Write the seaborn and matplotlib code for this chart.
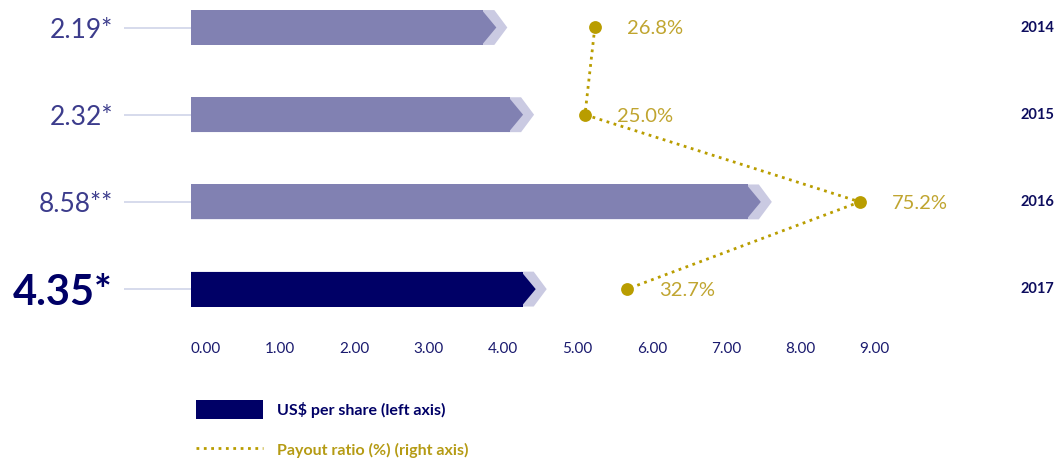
import numpy as np
import pandas as pd
import matplotlib
matplotlib.use("Agg")
import matplotlib.pyplot as plt
from matplotlib.patches import Polygon, Patch
from matplotlib.lines import Line2D
import seaborn as sns

# ---- data ----
years = ["2014", "2015", "2016", "2017"]
dividend_labels = ["2.19*", "2.32*", "8.58**", "4.35*"]
bar_values = [3.82, 4.18, 7.38, 4.35]          # read against the bottom axis
payout_ratio = [26.8, 25.0, 75.2, 32.7]        # %, right axis
tick_values = [0, 1, 2, 3, 4, 5, 6, 7, 8, 9]

# ---- styling ----
BAR_LIGHT = "#8181b2"
BAR_DARK = "#000066"
CHEVRON = "#cacae2"
LABEL_LIGHT = "#3c3c8c"
LEADER = "#d6dbec"
GOLD = "#b99d00"
GOLD_TEXT = "#c0a530"
YEAR_COLOR = "#0d0d5e"
TICK_COLOR = "#1a1a6e"

W, H = 1057, 459
PX_PER_UNIT = 74.3       # pixels per unit on the bottom axis
ZERO_PX = 206            # horizontal pixel of the zero tick
AXES_BOTTOM_PX = 338
ROW_TOP_PX, ROW_STEP_PX = 27.5, 87.2

sns.set_style("white")
plt.rcParams["font.family"] = ["Lato", "DejaVu Sans"]

fig = plt.figure(figsize=(W / 100, H / 100), dpi=100)
ax = fig.add_axes([0, 1 - AXES_BOTTOM_PX / H, 1, AXES_BOTTOM_PX / H])

df = pd.DataFrame({"year": years, "value": bar_values})
palette = {y: (BAR_DARK if y == years[-1] else BAR_LIGHT) for y in years}
sns.barplot(data=df, x="value", y="year", hue="year", palette=palette,
            orient="h", width=0.40, legend=False, saturation=1, ax=ax)

# turn each bar into an arrow with a light chevron behind it
lead = 15 / PX_PER_UNIT       # bars start slightly left of zero
tip = 13 / PX_PER_UNIT        # arrow head length
shift = 11 / PX_PER_UNIT      # offset of the chevron copy
for rect in list(ax.patches):
    w, y0, h = rect.get_width(), rect.get_y(), rect.get_height()
    color = rect.get_facecolor()
    z = rect.get_zorder()
    body_end = w - tip / 2
    rect.set_x(-lead)
    rect.set_width(body_end + lead)
    rect.set_linewidth(0)
    ax.add_patch(Polygon([(body_end - 0.02, y0), (w + tip / 2, y0 + h / 2),
                          (body_end - 0.02, y0 + h)], closed=True,
                         facecolor=color, edgecolor="none", zorder=z))
    ax.add_patch(Polygon([(-lead, y0), (body_end + shift, y0),
                          (w + tip / 2 + shift, y0 + h / 2),
                          (body_end + shift, y0 + h), (-lead, y0 + h)],
                         closed=True, facecolor=CHEVRON, edgecolor="none",
                         zorder=z - 0.1))

ax.set_xlim(-ZERO_PX / PX_PER_UNIT, (W - ZERO_PX) / PX_PER_UNIT)
ylim = (-ROW_TOP_PX / ROW_STEP_PX, (AXES_BOTTOM_PX - ROW_TOP_PX) / ROW_STEP_PX)

# bottom axis ticks
ax.set_xticks(tick_values)
ax.set_xticklabels([f"{v:.2f}" for v in tick_values])
ax.tick_params(axis="x", length=0, pad=3, labelsize=11, labelcolor=TICK_COLOR)
ax.set_yticks([])
ax.set_xlabel("")
ax.set_ylabel("")
for s in ax.spines.values():
    s.set_visible(False)

# left value labels with leader lines, year labels on the right
yt = ax.get_yaxis_transform()
for i, (lab, yr) in enumerate(zip(dividend_labels, years)):
    last = i == len(years) - 1
    ax.plot([124 / W, 191 / W], [i, i], transform=yt, color=LEADER,
            lw=1.4, zorder=0.5, solid_capstyle="butt")
    ax.text(113 / W, i, lab, transform=yt, ha="right", va="center_baseline",
            fontsize=30 if last else 19,
            fontweight="bold" if last else "normal",
            color=BAR_DARK if last else LABEL_LIGHT)
    ax.text(1054 / W, i, yr, transform=yt, ha="right", va="center",
            fontsize=10.5, fontweight="bold", color=YEAR_COLOR)

# payout ratio on its own horizontal scale
ax2 = ax.twiny()
positions = np.arange(len(years))
sns.lineplot(x=payout_ratio, y=positions, sort=False, estimator=None,
             color=GOLD, linestyle=":", linewidth=2, ax=ax2)
sns.scatterplot(x=payout_ratio, y=positions, color=GOLD, s=85,
                linewidth=0, zorder=5, ax=ax2)
for p, i in zip(payout_ratio, positions):
    ax2.annotate(f"{p:.1f}%", (p, i), xytext=(23, 0),
                 textcoords="offset points", ha="left", va="center_baseline",
                 fontsize=14.5, color=GOLD_TEXT)
ax2.set_xlim(-448.1 / 5.475, (W - 448.1) / 5.475)
ax2.set_xticks([])
ax2.set_xlabel("")
ax2.set_ylabel("")
for s in ax2.spines.values():
    s.set_visible(False)
ax.set_ylim(ylim[1], ylim[0])

# legend
handles = [Patch(facecolor=BAR_DARK, edgecolor="none"),
           Line2D([], [], color=GOLD, linestyle=":", linewidth=2)]
leg = fig.legend(handles, ["US$ per share (left axis)",
                           "Payout ratio (%) (right axis)"],
                 loc="upper left", bbox_to_anchor=(196 / W, 1 - 400 / H),
                 frameon=False, handlelength=4.2, handleheight=1.5,
                 handletextpad=0.85, labelspacing=1.3, borderpad=0,
                 borderaxespad=0, prop={"size": 11.5, "weight": "bold"})
leg.get_texts()[0].set_color(BAR_DARK)
leg.get_texts()[1].set_color("#b59b14")

fig.savefig("out.png", dpi=100)
